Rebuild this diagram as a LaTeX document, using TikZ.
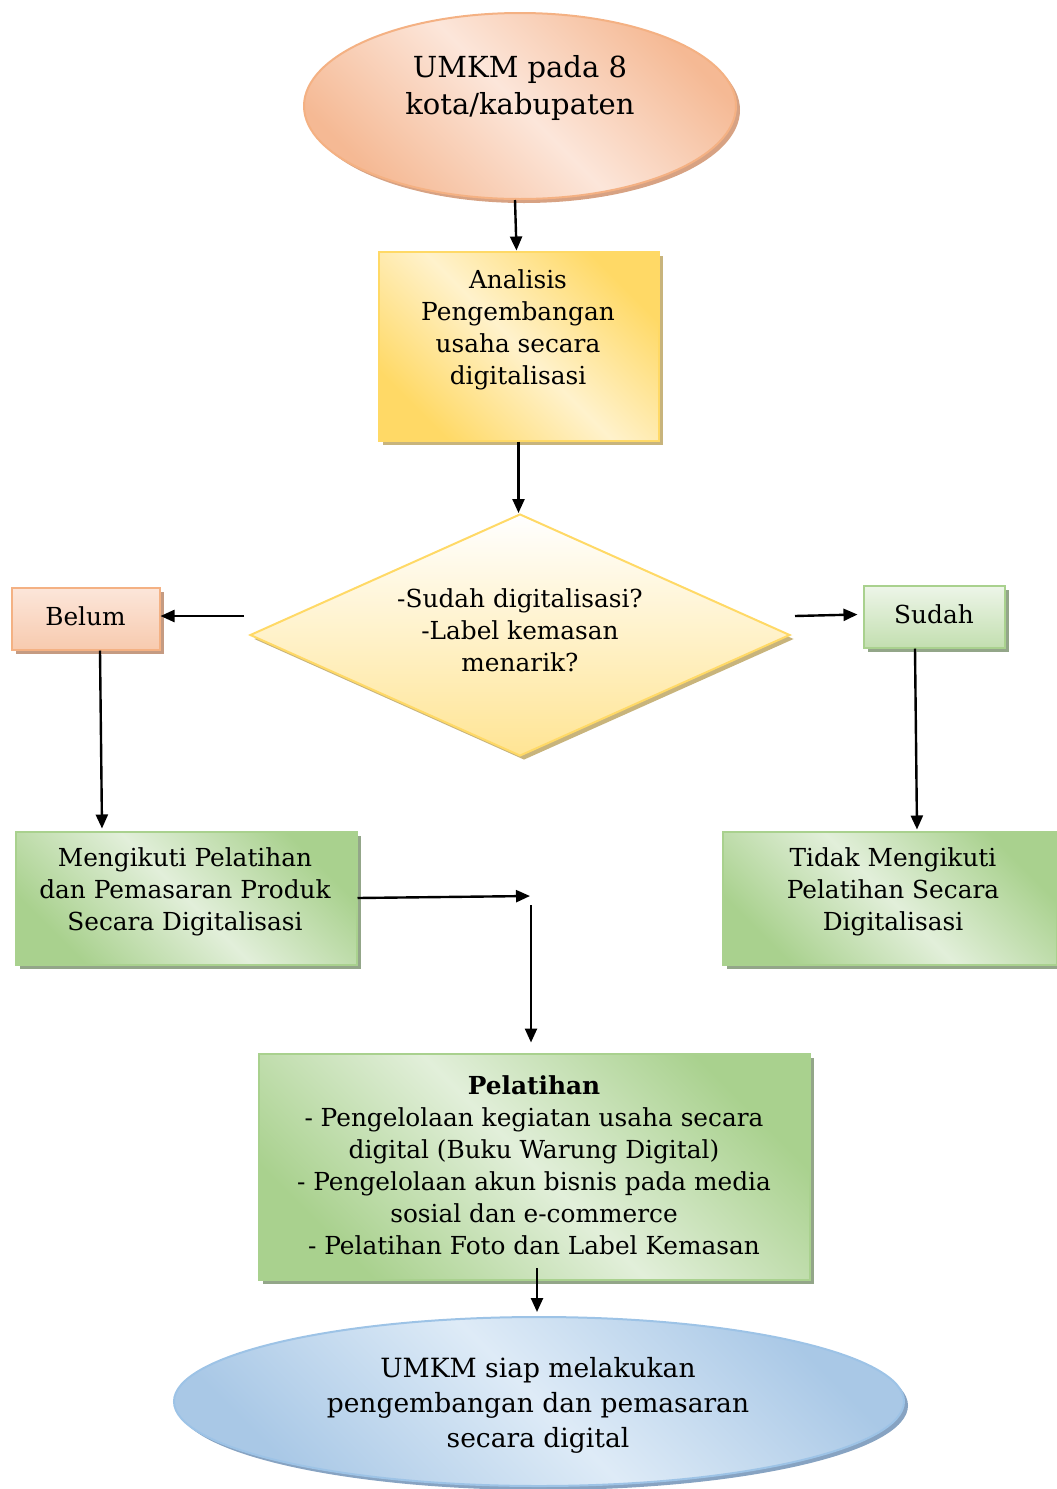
\documentclass[tikz,border=0pt]{standalone}
\usepackage{fontspec}
\setmainfont{DejaVu Serif}
\usetikzlibrary{shapes.geometric,arrows.meta,shadows,calc}
\definecolor{orBorder}{HTML}{F4B183}
\definecolor{orDark}{HTML}{F5B994}
\definecolor{orLight}{HTML}{FCE6DA}
\definecolor{orShadow}{HTML}{D7A283}
\definecolor{yeBorder}{HTML}{FFD966}
\definecolor{yeDark}{HTML}{FFD966}
\definecolor{yeLight}{HTML}{FFF2CC}
\definecolor{yeShadow}{HTML}{C8B47C}
\definecolor{grBorder}{HTML}{A9D18E}
\definecolor{grDark}{HTML}{A9D18E}
\definecolor{grLight}{HTML}{E2EFDA}
\definecolor{grShadow}{HTML}{93A689}
\definecolor{blBorder}{HTML}{9DC3E6}
\definecolor{blDark}{HTML}{A9C8E6}
\definecolor{blLight}{HTML}{DEEBF7}
\definecolor{blShadow}{HTML}{87A3C2}
\begin{document}
\begin{tikzpicture}[x=1pt,y=-1pt,
  shp/.style={inner sep=0pt, line width=2pt},
  shd/.style={general shadow={shadow xshift=4pt, shadow yshift=-4pt, fill=#1}},
  diag/.style={top color=#1Dark, bottom color=#1Dark, middle color=#1Light, shading angle=-45, draw=#1Border},
  txt/.style={align=center, inner sep=0pt, font=\fontsize{24.8}{32}\selectfont},
  conn/.style={line width=2.4pt, -{Triangle[length=14pt,width=12pt]}}
]
\useasboundingbox (0,0) rectangle (1057,1489);

% shapes
\node[shp, ellipse, minimum width=432, minimum height=186, diag=or, shd=orShadow] (start) at (520,106) {};
\node[shp, rectangle, minimum width=280, minimum height=189, diag=ye, shd=yeShadow] (anal) at (518.5,346) {};
\node[shp, diamond, minimum width=540, minimum height=242, draw=yeBorder, top color=white, bottom color=yeDark!70!white, shd=yeShadow] (dia) at (520,635) {};
\node[shp, rectangle, minimum width=148, minimum height=62, draw=orBorder, top color=orLight, bottom color=orDark!75!white, shd=orShadow!80!gray] (belum) at (85.5,618.5) {};
\node[shp, rectangle, minimum width=141, minimum height=62, draw=grBorder, top color=grLight!60!white, bottom color=grDark!70!white, shd=grShadow] (sudah) at (934,616.5) {};
\node[shp, rectangle, minimum width=341, minimum height=133, diag=gr, shd=grShadow] (meng) at (186,898) {};
\node[shp, rectangle, minimum width=334, minimum height=133, diag=gr, shd=grShadow] (tidak) at (889.5,898) {};
\node[shp, rectangle, minimum width=551, minimum height=226, diag=gr, shd=grShadow] (pel) at (534,1166.5) {};
\node[shp, ellipse, minimum width=730, minimum height=169, diag=bl, shd=blShadow] (end) at (539,1401.5) {};

% texts
\node[txt, font=\fontsize{29}{37}\selectfont] (startT) at (520,88) {UMKM pada 8\\kota/kabupaten};
\node[txt] (analT) at (518,330) {Analisis\\Pengembangan\\usaha secara\\digitalisasi};
\node[txt] (diaT) at (520,630) {-Sudah digitalisasi?\\-Label kemasan\\menarik?};
\node[txt] (belumT) at (85.5,616) {Belum};
\node[txt] (sudahT) at (934,614) {Sudah};
\node[txt] (mengT) at (185,892) {Mengikuti Pelatihan\\dan Pemasaran Produk\\Secara Digitalisasi};
\node[txt] (tidakT) at (893,892) {Tidak Mengikuti\\Pelatihan Secara\\Digitalisasi};
\node[txt] (pelT) at (534,1165) {\textbf{Pelatihan}\\- Pengelolaan kegiatan usaha secara\\digital (Buku Warung Digital)\\- Pengelolaan akun bisnis pada media\\sosial dan e-commerce\\- Pelatihan Foto dan Label Kemasan};
\node[txt, font=\fontsize{26.5}{35}\selectfont] (endT) at (538,1405) {UMKM siap melakukan\\pengembangan dan pemasaran\\secara digital};

% connectors
\coordinate (dL) at (244,616);
\coordinate (dR) at (795,616);
\coordinate (midA) at (530,896);
\coordinate (midB) at (531,905);
\coordinate (pelB) at (537,1268);
\draw[conn] ($(start.south)+(-5,0)$) -- ($(anal.north)+(-2,0)$);
\draw[conn] (anal.south) -- (anal.south |- dia.north);
\draw[conn] (dL) -- (belum.east |- dL);
\draw[conn] (dR) -- ($(sudah.west)+(-5,-2)$);
\draw[conn] ($(belum.south)+(14.5,0)$) -- ($(meng.north)+(-84,-2)$);
\draw[conn] ($(sudah.south)+(-19,0)$) -- ($(tidak.north)+(27.5,-1)$);
\draw[conn] (meng.east) -- (midA);
\draw[conn, shorten >=10pt] (midB) -- (midB |- pel.north);
\draw[conn, shorten >=4pt] (pelB) -- (pelB |- end.north);
\end{tikzpicture}
\end{document}
